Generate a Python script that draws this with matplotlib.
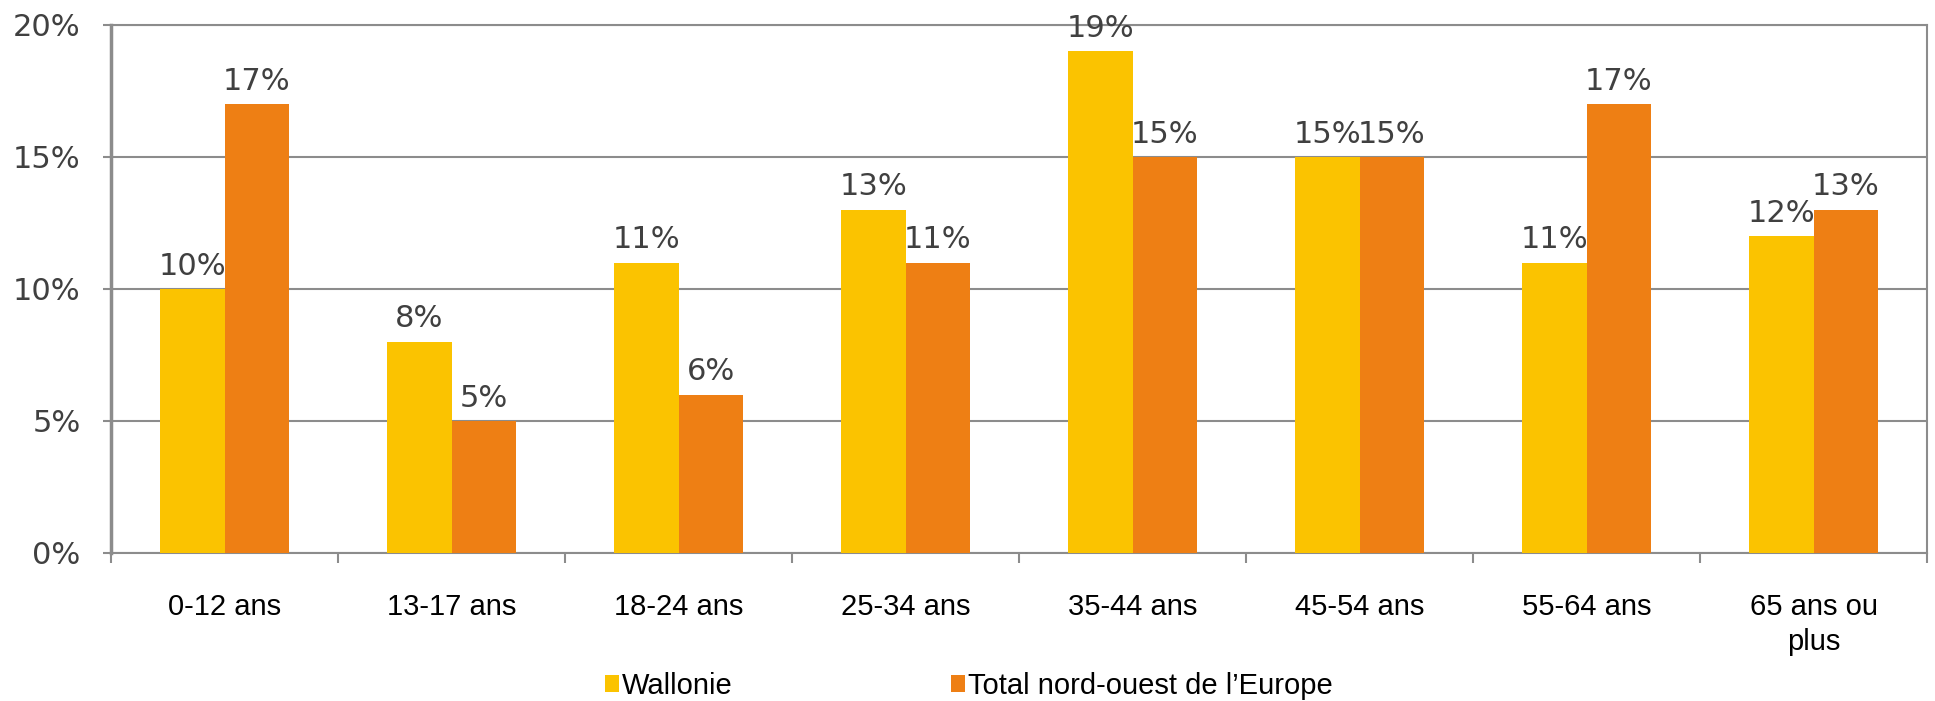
import matplotlib
matplotlib.use("Agg")
import matplotlib.pyplot as plt
import numpy as np
from matplotlib.patches import Patch

categories = ["0-12 ans", "13-17 ans", "18-24 ans", "25-34 ans", "35-44 ans",
              "45-54 ans", "55-64 ans", "65 ans ou\nplus"]
wallonie = [10, 8, 11, 13, 19, 15, 11, 12]
nord_ouest = [17, 5, 6, 11, 15, 15, 17, 13]
series_names = ["Wallonie", "Total nord-ouest de l\u2019Europe"]
yticks = [0, 5, 10, 15, 20]
ytick_labels = ["0%", "5%", "10%", "15%", "20%"]

YELLOW = "#FBC300"
ORANGE = "#EE7F14"
GRID = "#8C8C8C"
DARK = "#404040"

fig = plt.figure(figsize=(19.35, 7.01), dpi=100)
ax = fig.add_axes([111/1935, 1-553/701, (1927-111)/1935, (553-25)/701])

x = np.arange(len(categories))
w = 0.282
b1 = ax.bar(x - w/2, wallonie, w, color=YELLOW, zorder=3)
b2 = ax.bar(x + w/2, nord_ouest, w, color=ORANGE, zorder=3)

for bars in (b1, b2):
    ax.bar_label(bars, labels=[f"{v:.0f}%" for v in bars.datavalues],
                 padding=6, fontsize=22, color=DARK, family="DejaVu Sans")

ax.set_xlim(-0.5, len(categories) - 0.5)
ax.set_ylim(0, 20)
ax.set_yticks(yticks)
ax.set_yticklabels(ytick_labels, fontsize=22, color=DARK, family="DejaVu Sans")
ax.tick_params(axis="y", length=6, width=1.5, color=GRID, pad=16)

ax.set_xticks(x)
ax.set_xticklabels(categories, fontsize=21, color="black", family="Liberation Sans",
                   linespacing=1.32)
ax.tick_params(axis="x", which="major", length=0, pad=29)
ax.set_xticks(np.arange(-0.5, len(categories) + 0.5, 1), minor=True)
ax.tick_params(axis="x", which="minor", length=7, width=1.5, color=GRID)

ax.yaxis.grid(True, color=GRID, linewidth=1.5, zorder=0)
ax.set_axisbelow(True)
for side, sp in ax.spines.items():
    sp.set_color(GRID)
    sp.set_linewidth(1.5)
ax.spines["left"].set_linewidth(2.5)

handles = [Patch(facecolor=YELLOW, edgecolor="none"), Patch(facecolor=ORANGE, edgecolor="none")]
fig.legend(handles, series_names, loc="center left",
           bbox_to_anchor=(605/1935, 1-686/701), ncol=2, frameon=False,
           prop={"family": "Liberation Sans", "size": 21},
           handlelength=0.48, handleheight=0.55, handletextpad=0.1,
           columnspacing=7.5, borderpad=0, borderaxespad=0)

fig.savefig("out.png", dpi=100)
